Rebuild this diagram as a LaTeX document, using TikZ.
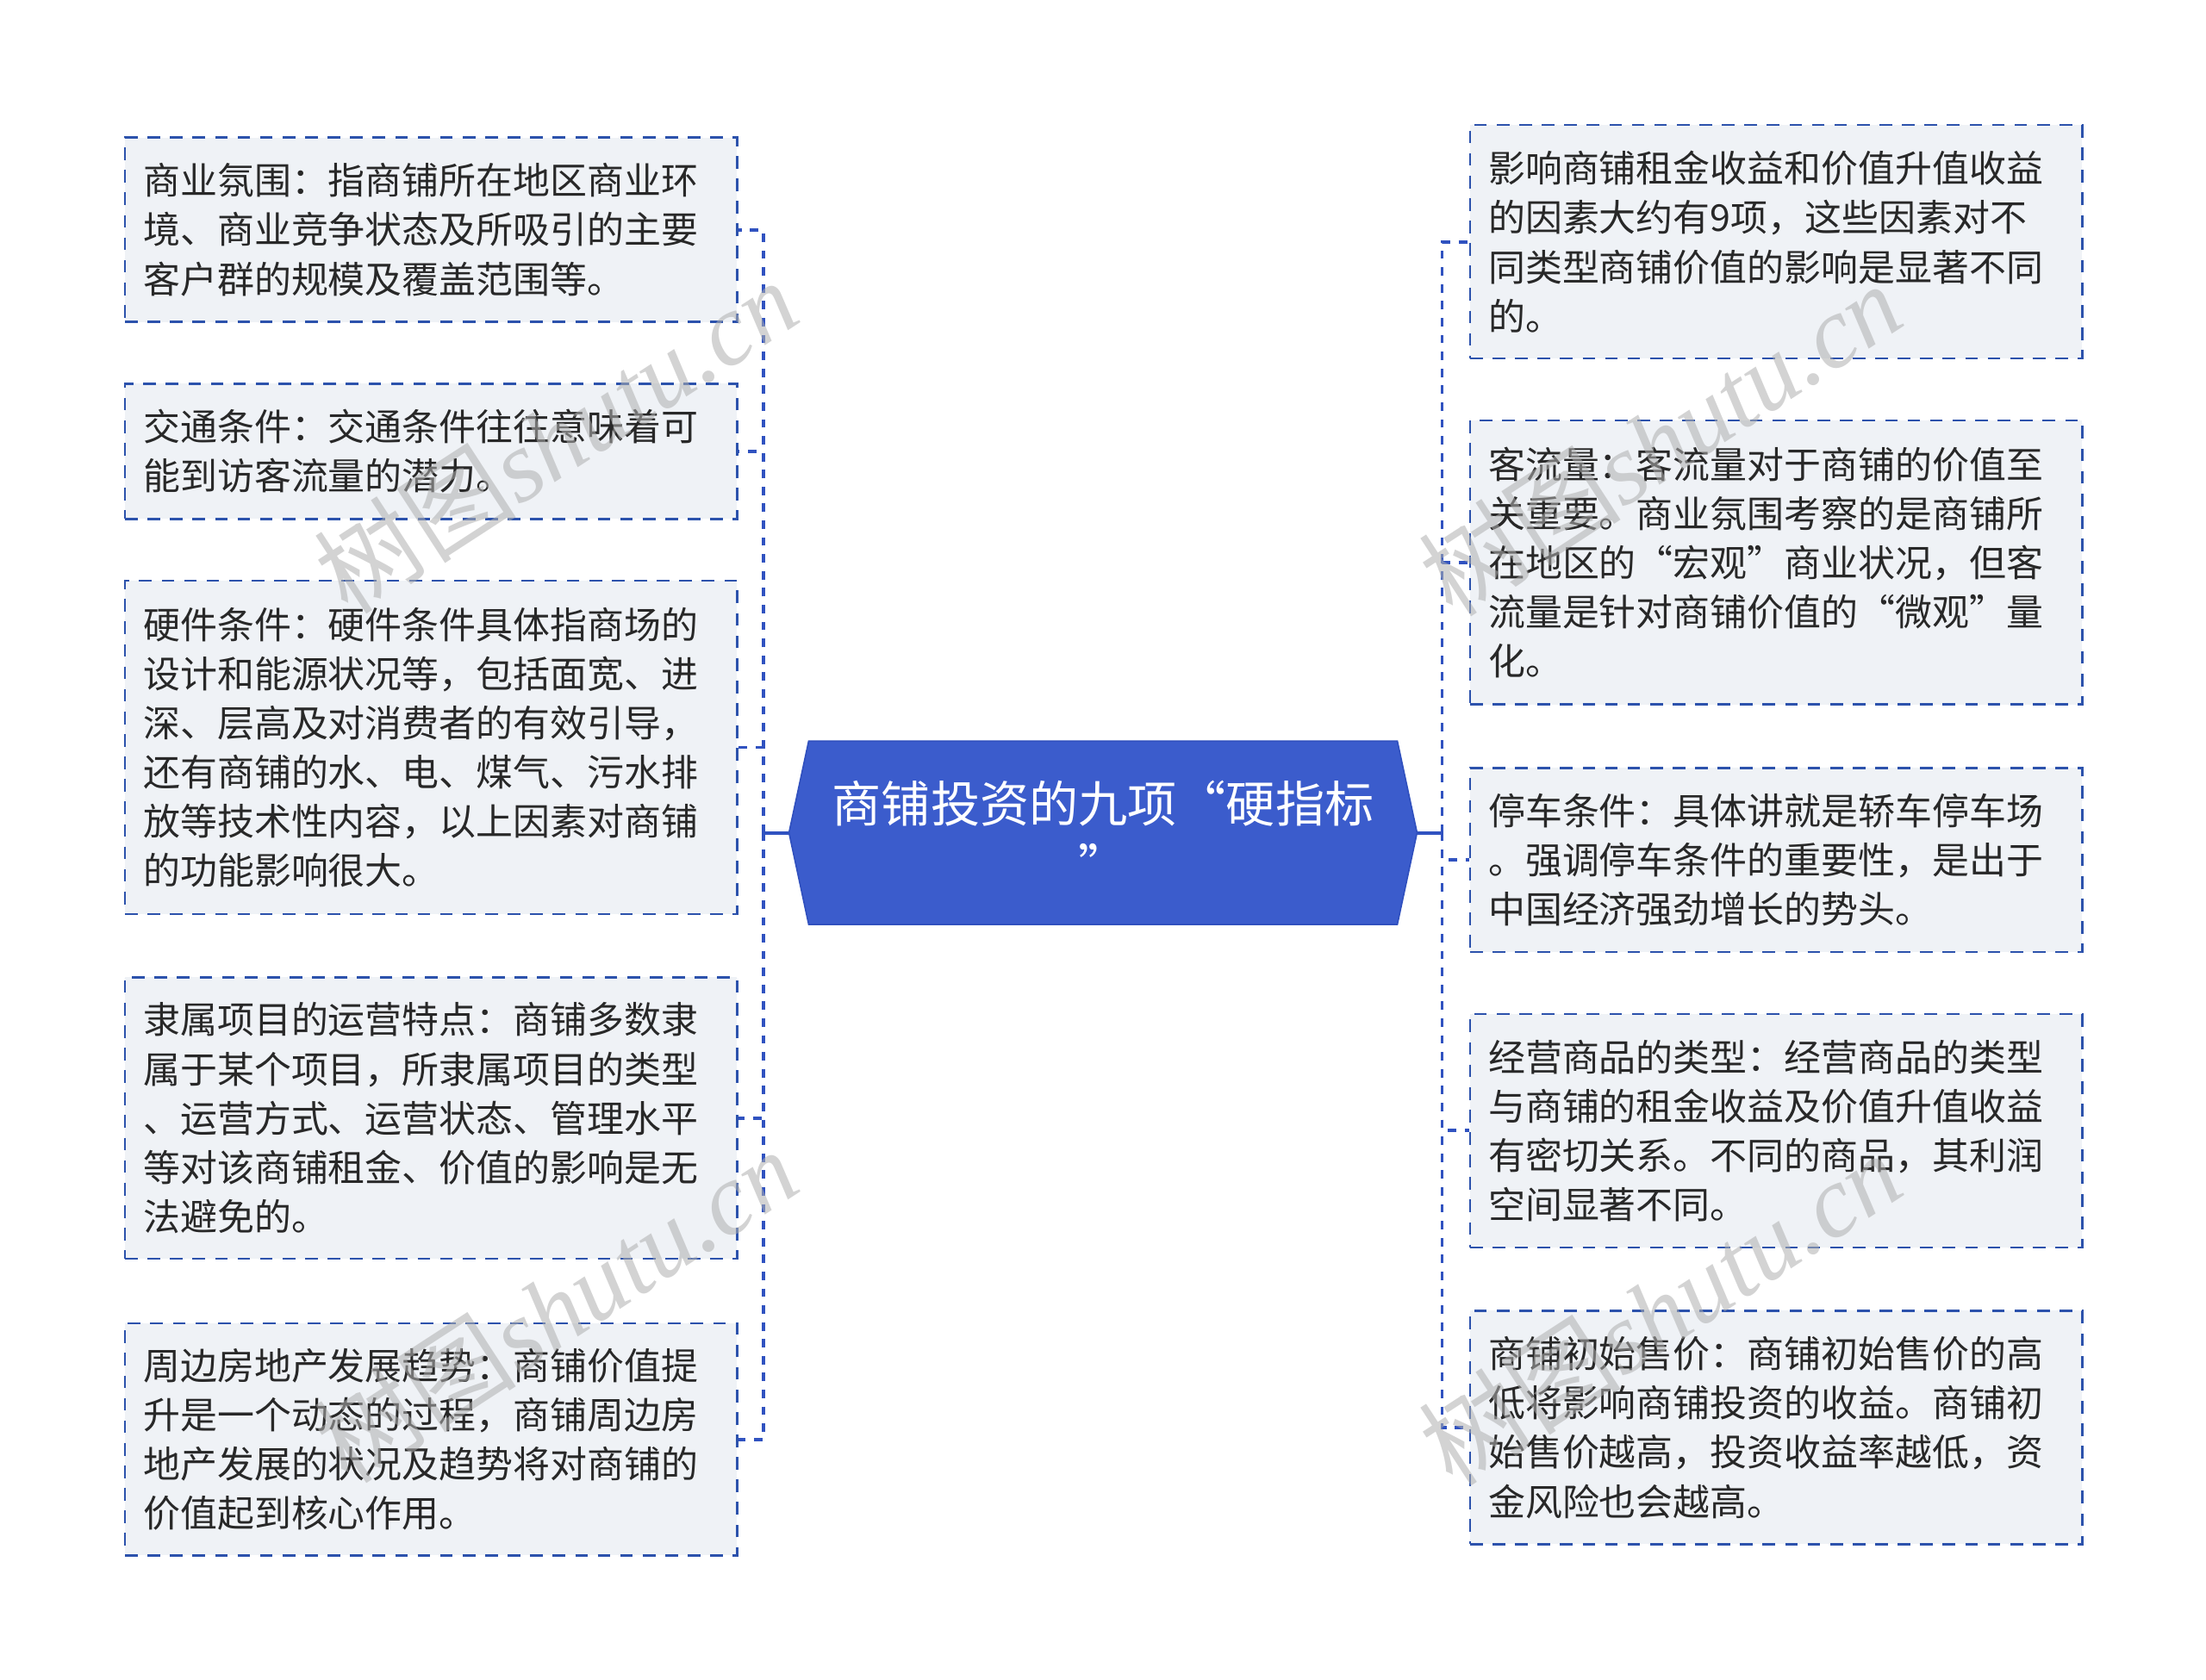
\documentclass[tikz,border=0pt]{standalone}
\usepackage{fontspec}
\setmainfont{Noto Sans CJK SC}
\newfontfamily\wmserif{Liberation Serif}
\usetikzlibrary{backgrounds}
\definecolor{boxfill}{RGB}{239,242,246}
\definecolor{boxline}{RGB}{44,82,172}
\definecolor{hubfill}{RGB}{59,92,204}
\definecolor{hubline}{RGB}{48,80,190}
\definecolor{linkc}{RGB}{48,82,192}
\definecolor{txt}{RGB}{40,40,40}
\definecolor{wm}{RGB}{175,175,175}
\tikzset{
  leaf/.style={rectangle, draw=boxline, line width=1.7pt, dash pattern=on 9pt off 7pt,
    fill=boxfill, inner xsep=13pt, inner ysep=0pt, text width=409pt, align=left,
    font=\fontsize{26.3}{35}\selectfont, text=txt, anchor=north west},
  hub/.style={rectangle, minimum width=446pt, minimum height=130pt, inner sep=0pt,
    text=white, align=center, font=\fontsize{35}{45}\selectfont},
  trunk/.style={draw=linkc, line width=2.4pt},
  branch/.style={draw=linkc, line width=2.4pt, dash pattern=on 6pt off 6pt},
  wmark/.style={text=wm, text opacity=0.55, font=\fontsize{72}{72}\selectfont, inner sep=0pt}
}
\begin{document}
\begin{tikzpicture}[x=1pt,y=1pt]
\useasboundingbox (0,0) rectangle (1568,-1194);
% hub
\node[hub] (C) at (784,-592) {商铺投资的九项“硬指标\\”};
\begin{scope}[on background layer]
\filldraw[fill=hubfill, draw=hubline, line width=1pt]
  (C.west) -- ([xshift=14pt]C.north west) -- ([xshift=-14pt]C.north east) -- (C.east)
  -- ([xshift=-14pt]C.south east) -- ([xshift=14pt]C.south west) -- cycle;
\end{scope}
% left leaves
\node[leaf, minimum height=131pt] (L1) at (88,-97) {商业氛围：指商铺所在地区商业环\\境、商业竞争状态及所吸引的主要\\客户群的规模及覆盖范围等。};
\node[leaf, minimum height=96pt] (L2) at (88,-272) {交通条件：交通条件往往意味着可\\能到访客流量的潜力。};
\node[leaf, minimum height=237pt] (L3) at (88,-412) {硬件条件：硬件条件具体指商场的\\设计和能源状况等，包括面宽、进\\深、层高及对消费者的有效引导，\\还有商铺的水、电、煤气、污水排\\放等技术性内容，以上因素对商铺\\的功能影响很大。};
\node[leaf, minimum height=200pt] (L4) at (88,-694) {隶属项目的运营特点：商铺多数隶\\属于某个项目，所隶属项目的类型\\、运营方式、运营状态、管理水平\\等对该商铺租金、价值的影响是无\\法避免的。};
\node[leaf, minimum height=165pt] (L5) at (88,-940) {周边房地产发展趋势：商铺价值提\\升是一个动态的过程，商铺周边房\\地产发展的状况及趋势将对商铺的\\价值起到核心作用。};
% right leaves
\node[leaf, minimum height=166pt] (R1) at (1044,-88) {影响商铺租金收益和价值升值收益\\的因素大约有9项，这些因素对不\\同类型商铺价值的影响是显著不同\\的。};
\node[leaf, minimum height=202pt] (R2) at (1044,-298) {客流量：客流量对于商铺的价值至\\关重要。商业氛围考察的是商铺所\\在地区的“宏观”商业状况，但客\\流量是针对商铺价值的“微观”量\\化。};
\node[leaf, minimum height=131pt] (R3) at (1044,-545) {停车条件：具体讲就是轿车停车场\\。强调停车条件的重要性，是出于\\中国经济强劲增长的势头。};
\node[leaf, minimum height=166pt] (R4) at (1044,-720) {经营商品的类型：经营商品的类型\\与商铺的租金收益及价值升值收益\\有密切关系。不同的商品，其利润\\空间显著不同。};
\node[leaf, minimum height=166pt] (R5) at (1044,-931) {商铺初始售价：商铺初始售价的高\\低将影响商铺投资的收益。商铺初\\始售价越高，投资收益率越低，资\\金风险也会越高。};
% connectors
\coordinate (lj) at (542.5,-592);
\coordinate (rj) at (1025,-592);
\draw[trunk] (C.west) -- (lj);
\draw[trunk] (C.east) -- (rj);
\foreach \n in {L1,L2,L3,L4,L5} \draw[branch] (lj) |- (\n.east);
\foreach \n in {R1,R2,R3,R4,R5} \draw[branch] (rj) |- (\n.west);
% watermarks
\node[wmark, rotate=33] (w1) at (395,-310) {树图{\wmserif\itshape shutu.cn}};
\node[wmark, rotate=33] (w2) at (395,-928) {树图{\wmserif\itshape shutu.cn}};
\node[wmark, rotate=33] (w3) at (1180,-312) {树图{\wmserif\itshape shutu.cn}};
\node[wmark, rotate=33] (w4) at (1180,-930) {树图{\wmserif\itshape shutu.cn}};
\end{tikzpicture}
\end{document}
